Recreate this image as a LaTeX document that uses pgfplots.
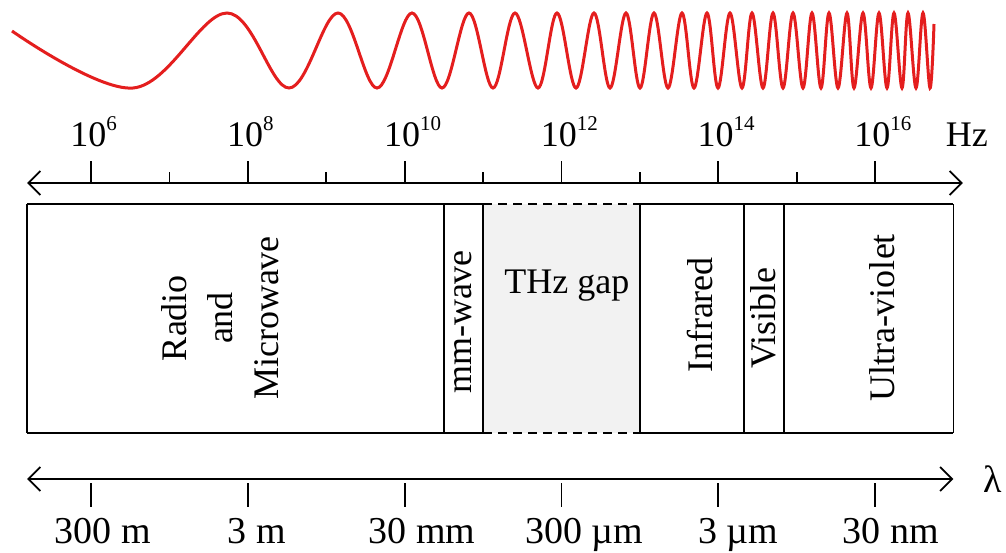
\documentclass[border=0pt]{standalone}
\usepackage{fontspec}
\setmainfont{Liberation Serif}
\usepackage{pgfplots}
\pgfplotsset{compat=1.18}
\usetikzlibrary{arrows.meta}
\definecolor{wavered}{RGB}{228,30,30}
\definecolor{gapgray}{RGB}{242,242,242}
\newcommand\pw[1]{10\raisebox{0.44em}{\fontsize{21}{21}\selectfont #1}}
\begin{document}
\begin{tikzpicture}
\pgfplotsset{every axis/.append style={width=1006pt,height=552pt,scale only axis,hide axis,clip=false,ymin=0,ymax=552,y dir=reverse}}
% ---- wave (pixel x) ----
\begin{axis}[xmin=0,xmax=1006]
\addplot[draw=none] coordinates {(0,0)(1006,552)};
\addplot[wavered, line width=3pt, smooth, tension=0.6] coordinates {
(12,31)(133,88)(227,13)(289,88)(338,13)(377,88)(412,13)(442,88)(469,13)(493,88)
(515,13)(538,88)(557,13)(576,88)(594,13)(610,88)(626,13)(640,88)(654,13)(668,88)
(682,13)(694,88)(707,13)(718,88)(730,13)(742,88)(752,13)(763,88)(773,13)(783,88)
(793,13)(803,88)(812,13)(821,88)(829,13)(838,88)(847,13)(854,88)(863,13)(871,88)
(879,13)(887,88)(894,13)(902,88)(908,13)(916,88)(923,13)(930,88)(934,24)};
\end{axis}
% ---- spectrum (x = log10 f) ----
\begin{axis}[xmin=4.8393,xmax=17.6709, unbounded coords=jump]
% THz gap fill
\addplot[fill=gapgray, draw=none] coordinates {(11,204)(13,204)(13,433)(11,433)} -- cycle;
% box solid horizontals
\addplot[black, line width=1.8pt] coordinates {(5.184,204)(11,204)(11,nan)(13,204)(17,204)};
\addplot[black, line width=1.8pt] coordinates {(5.184,433)(11,433)(11,nan)(13,433)(17,433)};
% dashed horizontals of THz gap
\addplot[black, line width=1.8pt, dash pattern=on 9pt off 6pt] coordinates {(11,204)(13,204)(13,nan)(11,433)(13,433)};
% verticals
\addplot[black, line width=1.8pt] coordinates {
(5.184,204)(5.184,433)(5.184,nan)
(10.5,204)(10.5,433)(10.5,nan)
(11,204)(11,433)(11,nan)
(13,204)(13,433)(13,nan)
(14.33,204)(14.33,433)(14.33,nan)
(14.84,204)(14.84,433)(14.84,nan)
(17,204)(17,433)};
% frequency axis
\addplot[black, line width=1.8pt, <->, >={Straight Barb[length=12pt,width=24pt]}] coordinates {(5.184,183)(17.12,183)};
\addplot[black, line width=1.8pt] coordinates {
(6,161)(6,183)(6,nan)(8,161)(8,183)(8,nan)(10,161)(10,183)(10,nan)
(12,161)(12,183)(12,nan)(14,161)(14,183)(14,nan)(16,161)(16,183)(16,nan)
(7,172)(7,183)(7,nan)(9,172)(9,183)(9,nan)(11,172)(11,183)(11,nan)
(13,172)(13,183)(13,nan)(15,172)(15,183)};
% wavelength axis
\addplot[black, line width=1.8pt, <->, >={Straight Barb[length=12pt,width=24pt]}] coordinates {(5.184,479)(17.0,479)};
\addplot[black, line width=1.8pt] coordinates {
(6,483)(6,507)(6,nan)(8,483)(8,507)(8,nan)(10,483)(10,507)(10,nan)
(12,483)(12,507)(12,nan)(14,483)(14,507)(14,nan)(16,483)(16,507)};
% frequency labels
\begin{scope}[every node/.style={font=\fontsize{36}{40}\selectfont, anchor=base west, inner sep=0pt}]
\node at (axis cs:5.735,146) {\pw{6}};
\node at (axis cs:7.735,146) {\pw{8}};
\node at (axis cs:9.735,146) {\pw{10}};
\node at (axis cs:11.735,146) {\pw{12}};
\node at (axis cs:13.735,146) {\pw{14}};
\node at (axis cs:15.735,146) {\pw{16}};
\end{scope}
\node[font=\fontsize{36}{40}\selectfont, anchor=base, inner sep=0pt] at (axis cs:17.173,146) {Hz};
\node[font=\fontsize{38}{40}\selectfont, inner sep=0pt] at (axis cs:17.505,479) {λ};
% wavelength labels
\begin{scope}[every node/.style={font=\fontsize{38}{40}\selectfont, anchor=base, inner sep=0pt}]
\node at (axis cs:6.153,543) {300 m};
\node at (axis cs:8.117,543) {3 m};
\node at (axis cs:10.222,543) {30 mm};
\node at (axis cs:12.288,543) {300 µm};
\node at (axis cs:14.253,543) {3 µm};
\node at (axis cs:16.204,543) {30 nm};
\end{scope}
% band labels
\begin{scope}[every node/.style={font=\fontsize{36}{46}\selectfont, inner sep=0pt}]
\node[rotate=90, align=center] at (axis cs:7.645,318) {Radio\\and\\Microwave};
\node[rotate=90] at (axis cs:10.745,322) {mm-wave};
\node[anchor=base] at (axis cs:12.07,293) {THz gap};
\node[rotate=90] at (axis cs:13.768,315) {Infrared};
\node[rotate=90] at (axis cs:14.571,318) {Visible};
\node[rotate=90] at (axis cs:16.09,318) {Ultra-violet};
\end{scope}
\end{axis}
\end{tikzpicture}
\end{document}
